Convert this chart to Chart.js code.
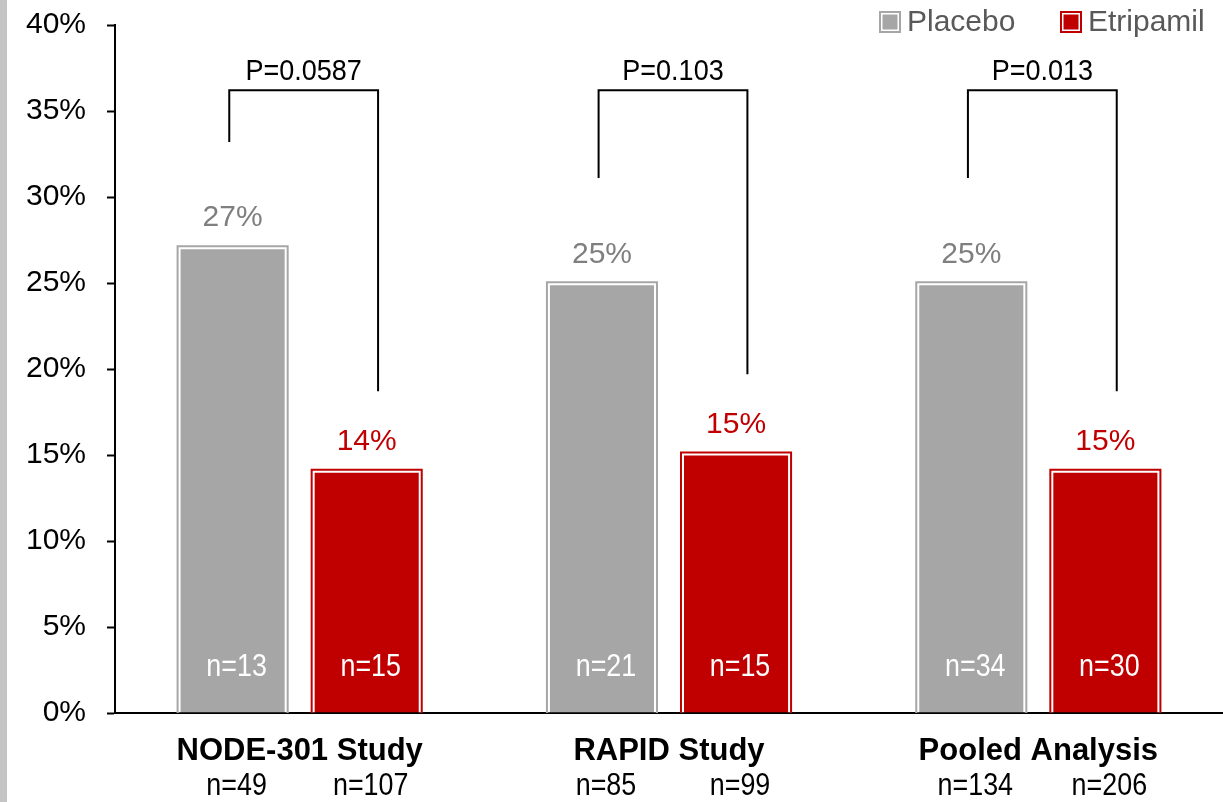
<!DOCTYPE html>
<html>
<head>
<meta charset="utf-8">
<script src="https://cdn.jsdelivr.net/npm/chart.js@4.4.1/dist/chart.umd.min.js"></script>
<style>
  html, body { margin: 0; padding: 0; background: #ffffff; }
  #wrap { width: 1223px; height: 802px; position: relative; }
</style>
</head>
<body>
<div id="wrap"><canvas id="c" width="1223" height="802"></canvas></div>
<script>
// ---- Data ----
const categories = ['NODE-301 Study', 'RAPID Study', 'Pooled Analysis'];
const seriesNames = ['Placebo', 'Etripamil'];
const placeboValues = [27.2, 25.1, 25.1];
const etripamilValues = [14.2, 15.2, 14.2];
const placeboLabels = ['27%', '25%', '25%'];
const etripamilLabels = ['14%', '15%', '15%'];
const placeboEvents = ['n=13', 'n=21', 'n=34'];
const etripamilEvents = ['n=15', 'n=15', 'n=30'];
const placeboTotals = ['n=49', 'n=85', 'n=134'];
const etripamilTotals = ['n=107', 'n=99', 'n=206'];
const pValues = ['P=0.0587', 'P=0.103', 'P=0.013'];
const yMin = 0, yMax = 40, yStep = 5;

// ---- Style ----
const GRAY = '#a6a6a6', GRAY_TXT = '#7f7f7f';
const RED = '#c00000', RED_TXT = '#c00000';
const FONT = "'Liberation Sans', Arial, sans-serif";

function drawText(ctx, text, x, y, size, color, opts) {
  opts = opts || {};
  ctx.save();
  ctx.font = (opts.weight || 'normal') + ' ' + size + 'px ' + FONT;
  ctx.fillStyle = color;
  ctx.textAlign = 'center';
  ctx.textBaseline = 'middle';
  const sx = opts.scaleX || 1;
  ctx.translate(x, y);
  ctx.scale(sx, 1);
  ctx.fillText(text, 0, 0);
  ctx.restore();
}

const decorPlugin = {
  id: 'decor',
  beforeDraw(chart) {
    const ctx = chart.ctx;
    ctx.save();
    ctx.fillStyle = '#ffffff';
    ctx.fillRect(0, 0, chart.width, chart.height);
    ctx.fillStyle = '#c4c4c4';
    ctx.fillRect(0, 0, 7, chart.height);
    ctx.restore();
  },
  afterDatasetsDraw(chart) {
    const ctx = chart.ctx;
    const y = chart.scales.y;
    const colors = [GRAY, RED];
    const valueLabels = [placeboLabels, etripamilLabels];
    const valueColors = [GRAY_TXT, RED_TXT];
    const events = [placeboEvents, etripamilEvents];
    const totals = [placeboTotals, etripamilTotals];
    const base = y.getPixelForValue(0);
    [0, 1].forEach(di => {
      const meta = chart.getDatasetMeta(di);
      meta.data.forEach((bar, i) => {
        const l = bar.x - bar.width / 2, r = bar.x + bar.width / 2, t = bar.y;
        ctx.save();
        ctx.strokeStyle = colors[di];
        ctx.lineWidth = 2;
        ctx.beginPath();
        ctx.moveTo(l + 1, base);
        ctx.lineTo(l + 1, t + 1);
        ctx.lineTo(r - 1, t + 1);
        ctx.lineTo(r - 1, base);
        ctx.stroke();
        ctx.restore();
        drawText(ctx, valueLabels[di][i], bar.x, t - 27, 30, valueColors[di]);
        drawText(ctx, events[di][i], bar.x + 4, base - 46, 32, '#ffffff', {scaleX: 0.84});
        drawText(ctx, totals[di][i], bar.x + 4, 786, 32, '#000000', {scaleX: 0.84});
      });
    });
    // significance brackets
    const m0 = chart.getDatasetMeta(0), m1 = chart.getDatasetMeta(1);
    categories.forEach((c, i) => {
      const b0 = m0.data[i], b1 = m1.data[i];
      const mid = (b0.x + b1.x) / 2 + 4;
      const half = (b1.x - b0.x) * 1.11 / 2;
      const xl = mid - half, xr = mid + half;
      const top = y.getPixelForValue(36.2);
      const yl = y.getPixelForValue(placeboValues[i] + 6);
      const yr = y.getPixelForValue(etripamilValues[i] + 4.5);
      ctx.save();
      ctx.strokeStyle = '#000000';
      ctx.lineWidth = 2;
      ctx.beginPath();
      ctx.moveTo(xl, yl);
      ctx.lineTo(xl, top);
      ctx.lineTo(xr, top);
      ctx.lineTo(xr, yr);
      ctx.stroke();
      ctx.restore();
      drawText(ctx, pValues[i], mid, top - 19, 30, '#000000', {scaleX: 0.9});
    });
    // legend
    const items = [[seriesNames[0], GRAY, 879], [seriesNames[1], RED, 1060]];
    items.forEach(([name, col, x]) => {
      const s = 22, ty = 11;
      ctx.save();
      ctx.fillStyle = col;
      ctx.fillRect(x, ty, s, s);
      ctx.strokeStyle = '#ffffff';
      ctx.lineWidth = 1.5;
      ctx.strokeRect(x + 2.75, ty + 2.75, s - 5.5, s - 5.5);
      ctx.font = '30px ' + FONT;
      ctx.fillStyle = '#595959';
      ctx.textAlign = 'left';
      ctx.textBaseline = 'middle';
      ctx.fillText(name, x + 28, ty + s / 2 + 1);
      ctx.restore();
    });
  }
};

new Chart(document.getElementById('c'), {
  type: 'bar',
  data: {
    labels: categories,
    datasets: [
      { label: seriesNames[0], data: placeboValues, backgroundColor: GRAY, borderColor: '#ffffff', borderWidth: 4, borderSkipped: 'start' },
      { label: seriesNames[1], data: etripamilValues, backgroundColor: RED, borderColor: '#ffffff', borderWidth: 4, borderSkipped: 'start' }
    ]
  },
  options: {
    responsive: false,
    devicePixelRatio: 1,
    animation: false,
    events: [],
    layout: { padding: { left: 7, right: 0, top: 25, bottom: 0 } },
    datasets: { bar: { categoryPercentage: 0.726, barPercentage: 0.836 } },
    plugins: { legend: { display: false }, tooltip: { enabled: false } },
    scales: {
      x: {
        z: 1,
        grid: { display: false, drawTicks: false },
        border: { display: true, color: '#000000', width: 2 },
        ticks: { color: '#000000', padding: 20, font: { family: FONT, size: 31, weight: 'bold' } },
        afterFit(scale) { scale.height = 89; scale.paddingLeft = 0; scale.paddingRight = 0; }
      },
      y: {
        z: 1,
        min: yMin, max: yMax,
        grid: { drawOnChartArea: false, drawTicks: true, tickLength: 8, tickColor: '#000000', tickWidth: 2 },
        border: { display: true, color: '#000000', width: 2 },
        ticks: { stepSize: yStep, color: '#000000', padding: 21, font: { family: FONT, size: 30 }, callback: v => v + '%' },
        afterFit(scale) { scale.width = 108; scale.paddingTop = 0; scale.paddingBottom = 0; }
      }
    }
  },
  plugins: [decorPlugin]
});
</script>
</body>
</html>
